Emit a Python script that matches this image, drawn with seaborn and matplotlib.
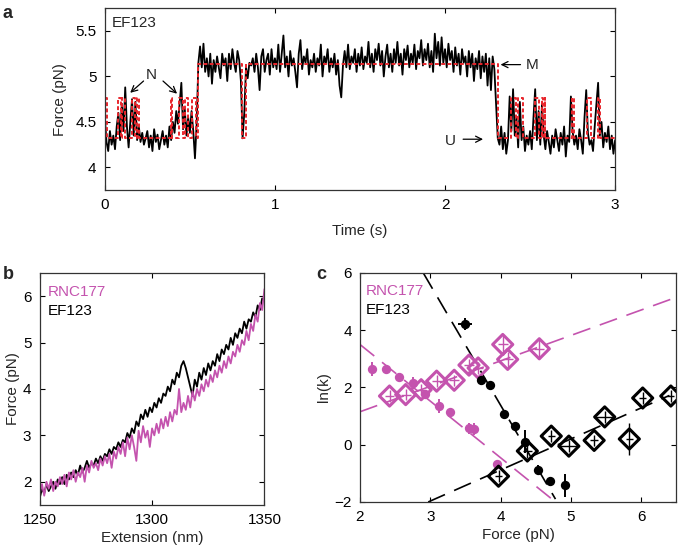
import numpy as np
import matplotlib
matplotlib.use("Agg")
import matplotlib.pyplot as plt
import seaborn as sns

# ---- panel a : force trace (pN), sampled every 10 ms from 0 to 3 s
force_a = [
    4.55, 4.28, 4.18, 4.40, 4.25, 4.35, 4.20, 4.45, 4.60, 4.30,
    4.70, 4.40, 4.88, 4.45, 4.22, 4.50, 4.75, 4.35, 4.72, 4.30,
    4.45, 4.28, 4.38, 4.25, 4.32, 4.40, 4.22, 4.35, 4.18, 4.42,
    4.28, 4.36, 4.20, 4.30, 4.40, 4.25, 4.35, 4.22, 4.45, 4.30,
    4.50, 4.38, 4.62, 4.48, 4.70, 4.93, 4.42, 4.65, 4.35, 4.55,
    4.38, 4.62, 4.40, 4.10, 4.48,
    5.15, 5.33, 5.10, 5.36, 5.05, 5.20, 5.00, 5.25, 4.92, 5.18,
    5.05, 5.22, 5.10, 4.98, 5.25, 5.12, 5.20, 4.95, 5.25, 5.08,
    5.30, 5.15, 5.05, 5.28, 5.18, 4.95, 4.32, 4.60, 5.10, 4.98,
    5.15, 5.12, 5.20, 5.05, 5.25, 5.10, 4.85, 5.22, 5.30, 5.05,
    5.18, 5.25, 5.02, 5.30, 5.10, 5.20,
    5.08, 5.35, 5.05, 5.25, 5.45, 5.10, 5.22, 5.00, 5.28, 5.12,
    5.20, 5.05, 4.88, 5.25, 5.40, 5.08, 5.22, 5.15, 5.30, 5.02,
    5.18, 5.10, 5.25, 5.05, 5.20, 5.12, 5.35, 5.00, 5.22, 5.15,
    5.30, 5.05, 5.20, 5.10, 5.25, 5.02, 5.18, 4.90, 4.77, 5.12,
    5.28, 5.10, 5.35, 5.08, 5.22, 5.15, 5.30, 5.05, 5.25, 5.12,
    5.32, 5.08, 5.22, 5.15, 5.38, 5.10, 5.25, 5.05, 5.30, 5.18,
    5.36, 5.12, 5.28, 5.00, 5.22, 5.35, 5.10, 5.25, 5.05, 5.30,
    5.15, 5.38, 5.12, 5.25, 5.02, 5.30, 5.18, 5.34, 5.10, 5.25,
    5.15, 5.35, 5.08, 5.28, 5.20, 5.40, 5.12, 5.30, 5.18, 5.36,
    5.10, 5.28, 5.05, 5.47, 5.20, 5.38, 5.12, 5.43, 5.15, 5.30,
    5.10, 5.36, 5.18, 5.28, 5.05, 5.32, 5.12, 5.25, 5.02, 5.30,
    5.15, 5.22, 5.00, 5.28, 5.10, 5.25, 4.95, 5.20, 5.08, 5.28,
    4.98, 5.22, 5.05, 5.25, 4.90, 5.20, 4.85, 5.22, 5.08, 4.70,
    4.32, 4.25, 4.45, 4.20, 4.38, 4.15, 4.30, 4.78, 4.40, 4.86,
    4.35, 4.55, 4.22, 4.72, 4.30, 4.45, 4.18, 4.35, 4.25, 4.40,
    4.20, 4.55, 4.86, 4.30, 4.62, 4.25, 4.70, 4.35, 4.20, 4.40,
    4.28, 4.15, 4.35, 4.22, 4.42, 4.30, 4.18, 4.38, 4.25, 4.45,
    4.12, 4.35, 4.28, 4.78, 4.40, 4.25, 4.35, 4.20, 4.42, 4.30,
    4.15, 4.55, 4.85, 4.38, 4.25, 4.30, 4.18, 4.45, 4.70, 4.93,
    4.35, 4.50, 4.22, 4.38, 4.28, 4.45, 4.20, 4.35, 4.15, 4.30,
]
time_a = np.linspace(0, 3, len(force_a))

# state assignment (dashed red), change points and levels
state_t = [0.0, 0.01, 0.08, 0.095, 0.10, 0.12, 0.16, 0.175, 0.19, 0.20,
           0.39, 0.395, 0.435, 0.46, 0.47, 0.49, 0.51, 0.535, 0.55, 0.805,
           0.83, 2.31, 2.39, 2.42, 2.43, 2.46, 2.53, 2.55, 2.57, 2.575,
           2.585, 2.59, 2.745, 2.76, 2.835, 2.86, 2.90, 2.91, 3.0]
state_f = [4.76, 4.32, 4.76, 4.32, 4.76, 4.32, 4.76, 4.32, 4.76, 4.32,
           4.76, 4.32, 4.76, 4.32, 4.76, 4.32, 4.76, 4.32, 5.14, 4.32,
           5.14, 4.32, 4.76, 4.32, 4.76, 4.32, 4.76, 4.32, 4.76, 4.32,
           4.76, 4.32, 4.76, 4.32, 4.76, 4.32, 4.76, 4.32, 4.32]

# ---- panel b : force-extension curves, 1 nm steps 1250..1350
ext_b = np.arange(1250, 1351)
force_ef = [
    1.65, 1.85, 1.75, 1.95, 1.80, 1.90, 2.00, 1.85, 2.05, 1.95,
    2.10, 1.95, 2.15, 2.05, 2.20, 2.10, 2.25, 2.15, 2.35, 2.20,
    2.30, 2.45, 2.30, 2.40, 2.35, 2.50, 2.40, 2.55, 2.45, 2.60,
    2.55, 2.70, 2.60, 2.75, 2.70, 2.85, 2.75, 2.90, 2.85, 3.05,
    2.95, 3.15, 3.05, 3.30, 3.20, 3.45, 3.35, 3.55, 3.40, 3.60,
    3.50, 3.70, 3.60, 3.80, 3.70, 3.90, 3.85, 4.05, 3.95, 4.20,
    4.10, 4.35, 4.25, 4.50, 4.60, 4.45, 4.25, 4.05, 3.85, 4.20,
    4.05, 4.35, 4.20, 4.45, 4.30, 4.55, 4.40, 4.60, 4.50, 4.75,
    4.60, 4.85, 4.75, 4.95, 4.85, 5.10, 4.95, 5.20, 5.10, 5.30,
    5.20, 5.45, 5.30, 5.50, 5.45, 5.65, 5.55, 5.80, 5.70, 5.95,
    5.90,
]
force_rnc = [
    1.75, 1.95, 1.70, 2.00, 1.85, 2.05, 1.80, 2.00, 1.90, 2.10,
    1.95, 2.15, 1.90, 2.20, 2.05, 2.25, 2.00, 2.20, 2.10, 2.30,
    2.00, 2.35, 2.20, 2.45, 2.30, 2.40, 2.25, 2.50, 2.35, 2.55,
    2.40, 2.60, 2.30, 2.65, 2.50, 2.75, 2.60, 2.85, 2.55, 2.95,
    2.70, 3.00, 2.75, 2.45, 3.10, 2.85, 3.20, 2.95, 3.10, 2.75,
    3.15, 3.00, 3.25, 3.05, 3.35, 3.15, 3.40, 3.20, 3.50, 3.30,
    3.55, 3.45, 4.00, 3.50, 3.70, 3.55, 3.85, 3.60, 3.95, 3.75,
    4.00, 3.85, 4.10, 3.95, 4.20, 4.05, 4.30, 4.15, 4.40, 4.25,
    4.50, 4.35, 4.60, 4.45, 4.70, 4.55, 4.80, 4.70, 4.95, 4.80,
    5.05, 4.95, 5.25, 5.05, 5.40, 5.25, 5.60, 5.45, 5.85, 5.70,
    6.15,
]

# ---- panel c : ln(k) vs force
rnc_fold_f = [2.17, 2.37, 2.56, 2.75, 2.92, 3.12, 3.28, 3.55, 3.62, 3.95]
rnc_fold_lnk = [2.65, 2.65, 2.38, 2.15, 1.78, 1.35, 1.15, 0.57, 0.55, -0.68]
rnc_fold_ferr = [0.06, 0.03, 0.04, 0.04, 0.04, 0.05, 0.04, 0.05, 0.04, 0.03]
rnc_fold_lerr = [0.25, 0.10, 0.12, 0.20, 0.10, 0.25, 0.10, 0.20, 0.20, 0.10]

rnc_unf_f = [2.42, 2.65, 2.87, 3.09, 3.34, 3.55, 3.68, 4.03, 4.10, 4.55]
rnc_unf_lnk = [1.70, 1.75, 1.92, 2.22, 2.25, 2.78, 2.68, 3.50, 2.98, 3.35]
rnc_unf_ferr = [0.07, 0.07, 0.07, 0.07, 0.07, 0.07, 0.07, 0.07, 0.07, 0.07]
rnc_unf_lerr = [0.20, 0.20, 0.20, 0.20, 0.20, 0.20, 0.20, 0.35, 0.25, 0.35]

ef_fold_f = [3.49, 3.72, 3.85, 4.05, 4.20, 4.35, 4.53, 4.70, 4.91]
ef_fold_lnk = [4.22, 2.27, 2.08, 1.08, 0.67, 0.10, -0.87, -1.28, -1.42]
ef_fold_ferr = [0.10, 0.03, 0.03, 0.03, 0.04, 0.05, 0.03, 0.03, 0.03]
ef_fold_lerr = [0.20, 0.20, 0.10, 0.12, 0.10, 0.40, 0.15, 0.15, 0.40]

ef_unf_f = [3.97, 4.38, 4.72, 4.97, 5.33, 5.48, 5.83, 6.02, 6.42]
ef_unf_lnk = [-1.10, -0.22, 0.30, -0.05, 0.15, 0.97, 0.20, 1.63, 1.70]
ef_unf_ferr = [0.05, 0.06, 0.05, 0.15, 0.06, 0.15, 0.05, 0.05, 0.05]
ef_unf_lerr = [0.20, 0.25, 0.20, 0.20, 0.20, 0.20, 0.55, 0.20, 0.20]

# fitted lines (end points)
fit_rnc_unf = ([2.0, 6.5], [1.15, 5.15])
fit_rnc_fold = ([2.0, 4.78], [3.5, -2.0])
fit_ef_fold = ([2.9, 4.78], [6.0, -1.9])
fit_ef_unf = ([2.97, 6.4], [-2.0, 1.72])

MAG = "#C453AE"
RED = "#E8262C"
FS = 11

sns.set_theme(style="ticks")
plt.rcParams["font.family"] = ["Liberation Sans", "DejaVu Sans"]
plt.rcParams["font.size"] = FS
plt.rcParams["axes.linewidth"] = 0.9

fig = plt.figure(figsize=(6.85, 5.48), dpi=100)
ax_a = fig.add_axes([0.153, 0.653, 0.745, 0.332])
ax_b = fig.add_axes([0.058, 0.0785, 0.328, 0.4235])
ax_c = fig.add_axes([0.5255, 0.084, 0.462, 0.418])

for ax in (ax_a, ax_b, ax_c):
    ax.tick_params(direction="in", top=True, right=True, labelsize=FS,
                   length=3.5, width=0.8, colors="black", pad=6)
    for s in ax.spines.values():
        s.set_color("#333333")

# panel a
sns.lineplot(x=time_a, y=force_a, ax=ax_a, color="black", lw=1.3,
             sort=False, estimator=None)
sns.lineplot(x=state_t, y=state_f, ax=ax_a, color=RED, lw=1.4,
             sort=False, estimator=None, drawstyle="steps-post")
ax_a.lines[-1].set_dashes([2, 1.2])
ax_a.set_xlim(0, 3)
ax_a.set_ylim(3.75, 5.75)
ax_a.set_xticks([0, 1, 2, 3])
ax_a.set_yticks([4, 4.5, 5, 5.5])
ax_a.set_yticklabels(["4", "4.5", "5", "5.5"])
ax_a.set_xlabel("Time (s)", fontsize=FS, labelpad=8)
ax_a.set_ylabel("Force (pN)", fontsize=FS, labelpad=6)
ax_a.text(0.014, 0.895, "EF123", transform=ax_a.transAxes, fontsize=FS)
arr = dict(arrowstyle="->", color="black", lw=0.9)
ax_a.annotate("", xy=(0.137, 4.80), xytext=(0.24, 4.97), arrowprops=arr)
ax_a.annotate("", xy=(0.437, 4.79), xytext=(0.33, 4.97), arrowprops=arr)
ax_a.text(0.275, 5.02, "N", ha="center", va="center", fontsize=FS)
ax_a.annotate("", xy=(2.31, 5.13), xytext=(2.46, 5.13), arrowprops=arr)
ax_a.text(2.51, 5.13, "M", ha="center", va="center", fontsize=FS)
ax_a.annotate("", xy=(2.24, 4.31), xytext=(2.09, 4.31), arrowprops=arr)
ax_a.text(2.03, 4.29, "U", ha="center", va="center", fontsize=FS)

# panel b
sns.lineplot(x=ext_b, y=force_ef, ax=ax_b, color="black", lw=1.3,
             sort=False, estimator=None)
sns.lineplot(x=ext_b, y=force_rnc, ax=ax_b, color=MAG, lw=1.3,
             sort=False, estimator=None)
ax_b.set_xlim(1250, 1350)
ax_b.set_ylim(1.5, 6.5)
ax_b.set_xticks([1250, 1300, 1350])
ax_b.set_yticks([2, 3, 4, 5, 6])
ax_b.set_xlabel("Extension (nm)", fontsize=FS, labelpad=3)
ax_b.set_ylabel("Force (pN)", fontsize=FS, labelpad=2)
ax_b.text(0.036, 0.918, "RNC177", color=MAG, transform=ax_b.transAxes,
          va="center", fontsize=FS)
ax_b.text(0.036, 0.836, "EF123", color="black", transform=ax_b.transAxes,
          va="center", fontsize=FS)

# panel c
for (fx, fy), col in ((fit_rnc_unf, MAG), (fit_rnc_fold, MAG),
                      (fit_ef_fold, "black"), (fit_ef_unf, "black")):
    sns.lineplot(x=fx, y=fy, ax=ax_c, color=col, lw=1.2, sort=False,
                 estimator=None)
    ax_c.lines[-1].set_dashes([11, 6])

groups = [
    (rnc_fold_f, rnc_fold_lnk, rnc_fold_ferr, rnc_fold_lerr, MAG, "o"),
    (rnc_unf_f, rnc_unf_lnk, rnc_unf_ferr, rnc_unf_lerr, MAG, "D"),
    (ef_fold_f, ef_fold_lnk, ef_fold_ferr, ef_fold_lerr, "black", "o"),
    (ef_unf_f, ef_unf_lnk, ef_unf_ferr, ef_unf_lerr, "black", "D"),
]
for fx, fy, xe, ye, col, mk in groups:
    ax_c.errorbar(fx, fy, xerr=xe, yerr=ye, fmt="none", ecolor=col,
                  elinewidth=1.4 if mk == "o" else 1.0, capsize=0, zorder=3)
    if mk == "o":
        sns.scatterplot(x=fx, y=fy, ax=ax_c, color=col, marker="o", s=45,
                        edgecolor=col, linewidth=0, zorder=4)
    else:
        sns.scatterplot(x=fx, y=fy, ax=ax_c, marker="D", s=105,
                        facecolor="none", edgecolor=col, linewidth=2.2,
                        zorder=4)
ax_c.set_xlim(2, 6.5)
ax_c.set_ylim(-2, 6)
ax_c.set_xticks([2, 3, 4, 5, 6])
ax_c.set_yticks([-2, 0, 2, 4, 6])
ax_c.set_xlabel("Force (pN)", fontsize=FS, labelpad=3)
ax_c.set_ylabel("ln(k)", fontsize=FS, labelpad=2)
ax_c.text(0.019, 0.92, "RNC177", color=MAG, transform=ax_c.transAxes,
          va="center", fontsize=FS)
ax_c.text(0.019, 0.84, "EF123", color="black", transform=ax_c.transAxes,
          va="center", fontsize=FS)

# panel letters
fig.text(0.004, 0.99, "a", fontsize=13, fontweight="bold", va="top")
fig.text(0.004, 0.515, "b", fontsize=13, fontweight="bold", va="top")
fig.text(0.462, 0.515, "c", fontsize=13, fontweight="bold", va="top")

fig.savefig("out.png", dpi=100)
